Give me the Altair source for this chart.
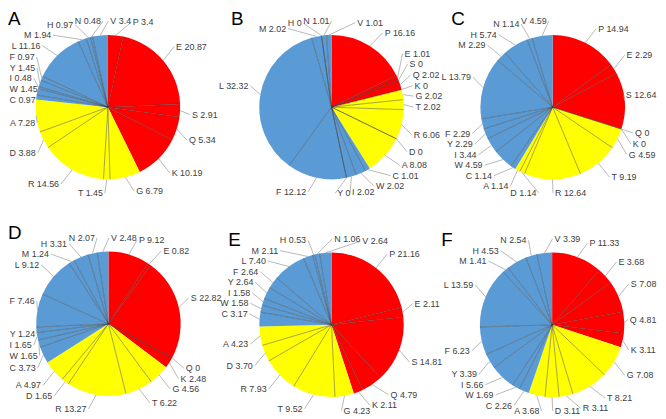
import math
import altair as alt
import pandas as pd

# ---------------- data ----------------
residues = ["P", "E", "S", "Q", "K", "G", "T", "R", "D", "A",
            "C", "W", "I", "Y", "F", "L", "M", "H", "N", "V"]
groups = ["red"] * 5 + ["yellow"] * 5 + ["blue"] * 10
group_domain = ["red", "yellow", "blue"]
group_colors = ["#FF0000", "#FFFF00", "#5B9BD5"]

panel_names = ["A", "B", "C", "D", "E", "F"]
values_A = ["3.4", "20.87", "2.91", "5.34", "10.19", "6.79", "1.45", "14.56", "3.88", "7.28",
            "0.97", "1.45", "0.48", "1.45", "0.97", "11.16", "1.94", "0.97", "0.48", "3.4"]
values_B = ["16.16", "1.01", "0", "2.02", "0", "2.02", "2.02", "6.06", "0", "8.08",
            "1.01", "2.02", "2.02", "0", "12.12", "32.32", "2.02", "0", "1.01", "1.01"]
values_C = ["14.94", "2.29", "12.64", "0", "0", "4.59", "9.19", "12.64", "1.14", "1.14",
            "1.14", "4.59", "3.44", "2.29", "2.29", "13.79", "2.29", "5.74", "1.14", "4.59"]
values_D = ["9.12", "0.82", "22.82", "0", "2.48", "4.56", "6.22", "13.27", "1.65", "4.97",
            "3.73", "1.65", "1.65", "1.24", "7.46", "9.12", "1.24", "3.31", "2.07", "2.48"]
values_E = ["21.16", "2.11", "14.81", "4.79", "2.11", "4.23", "9.52", "7.93", "3.70", "4.23",
            "3.17", "1.58", "1.58", "2.64", "2.64", "7.40", "2.11", "0.53", "1.06", "2.64"]
values_F = ["11.33", "3.68", "7.08", "4.81", "3.11", "7.08", "8.21", "3.11", "3.11", "3.68",
            "2.26", "1.69", "5.66", "3.39", "6.23", "13.59", "1.41", "4.53", "2.54", "3.39"]
all_values = [values_A, values_B, values_C, values_D, values_E, values_F]

# ---------------- layout constants ----------------
W, H = 219, 205            # panel size
R = 73                     # pie radius
RLX, RLY = 83, 87          # label superellipse
PEXP = 0.8
GAP = 2
LH = 10
FS = 9
FONT = "Liberation Sans"
PIE_CENTERS = [(101, 96), (108, 96), (112.5, 96), (101.5, 110), (108, 111), (112, 111)]
LETTER_POS = [(0, 13), (6.5, 13), (10, 13), (0, 24), (3.6, 31), (0, 31)]

CHAR_W = {".": 0.278, " ": 0.278, "A": 0.667, "C": 0.722, "D": 0.722, "E": 0.667,
          "F": 0.611, "G": 0.778, "H": 0.722, "I": 0.278, "K": 0.667, "L": 0.556,
          "M": 0.833, "N": 0.722, "P": 0.667, "Q": 0.778, "R": 0.722, "S": 0.667,
          "T": 0.611, "V": 0.667, "W": 0.944, "Y": 0.667}


def text_width(s):
    return sum(0.556 if ch.isdigit() else CHAR_W.get(ch, 0.6) for ch in s) * FS


def sp(v):
    return math.copysign(abs(v) ** PEXP, v)


def layout_labels(vals, texts, col, row, cx, cy):
    total = sum(vals)
    n = len(vals)
    mids, ends = [], []
    cum = 0.0
    for v in vals:
        a0 = cum / total * 360.0
        cum += v
        a1 = cum / total * 360.0
        mids.append((a0 + a1) / 2.0)
        ends.append(a1)
    widths = [text_width(t) for t in texts]
    ang = list(mids)

    def box(i):
        a = math.radians(ang[i])
        s, c = math.sin(a), math.cos(a)
        ax, ay = RLX * sp(s), RLY * sp(c)
        w = widths[i]
        if s >= 0:
            x0 = ax + GAP
            x1 = x0 + w
        else:
            x1 = ax - GAP
            x0 = x1 - w
        return ax, ay, x0, x1, ay - LH / 2, ay + LH / 2, ("left" if s >= 0 else "right")

    def overlap(b1, b2):
        return (b1[2] < b2[3] + 1.5 and b2[2] < b1[3] + 1.5
                and b1[4] < b2[5] + 0.5 and b2[4] < b1[5] + 0.5)

    for _ in range(4000):
        moved = False
        for i in range(n):
            for k in (1, 2, 3, 4):
                j = (i + k) % n
                if overlap(box(i), box(j)):
                    ang[i] -= 0.2
                    ang[j] += 0.2
                    moved = True
        if not moved:
            break

    xmin = 1.5 - col * W - cx
    xmax = 3 * W - 1.5 - col * W - cx
    ytop = row * H + cy - 1.5
    ybot = row * H + cy - (2 * H - 1.5)
    labels, leaders = [], []
    for i in range(n):
        ax, ay, x0, x1, y0, y1, al = box(i)
        if x0 < xmin:
            d = xmin - x0
            x0 += d; x1 += d
        if x1 > xmax:
            d = x1 - xmax
            x0 -= d; x1 -= d
        if y1 > ytop:
            ay -= (y1 - ytop)
        if y0 < ybot:
            ay += (ybot - y0)
        if al == "left":
            tx = x0
            lx = x0 - GAP
        else:
            tx = x1
            lx = x1 + GAP
        labels.append({"tx": tx, "ty": ay, "label": texts[i], "align": al})
        m = math.radians(mids[i])
        leaders.append({"x": R * math.sin(m), "y": R * math.cos(m), "x2": lx, "y2": ay})
    borders = []
    for i in range(n - 1):
        if groups[i] != groups[i + 1]:
            continue
        t = math.radians(ends[i])
        borders.append({"x": 0.0, "y": 0.0, "x2": R * math.sin(t), "y2": R * math.cos(t)})
    return pd.DataFrame(labels), pd.DataFrame(leaders), pd.DataFrame(borders)


def make_panel(idx):
    name = panel_names[idx]
    vals_str = all_values[idx]
    col, row = idx % 3, idx // 3
    cx, cy = PIE_CENTERS[idx]
    vals = [float(v) for v in vals_str]
    total = sum(vals)
    texts = [f"{r} {v}" for r, v in zip(residues, vals_str)]
    lab_df, lead_df, bord_df = layout_labels(vals, texts, col, row, cx, cy)

    xs = alt.Scale(domain=[-cx, W - cx], nice=False, zero=False)
    ys = alt.Scale(domain=[-(H - cy), cy], nice=False, zero=False)

    slices = pd.DataFrame({"res": residues, "grp": groups, "value": vals,
                           "order": list(range(len(vals)))})
    arc = alt.Chart(slices).mark_arc(outerRadius=R, strokeWidth=0).encode(
        theta=alt.Theta("value:Q", stack=True, scale=alt.Scale(domain=[0, total])),
        order=alt.Order("order:Q"),
        color=alt.Color("grp:N", scale=alt.Scale(domain=group_domain, range=group_colors),
                        legend=None),
        x=alt.XDatum(0, type="quantitative", scale=xs, axis=None),
        y=alt.YDatum(0, type="quantitative", scale=ys, axis=None),
    )
    borders = alt.Chart(bord_df).mark_rule(color="#3a3a3a", strokeWidth=0.7,
                                           opacity=0.65).encode(
        x=alt.X("x:Q", scale=xs, axis=None), y=alt.Y("y:Q", scale=ys, axis=None),
        x2="x2:Q", y2="y2:Q")
    leaders = alt.Chart(lead_df).mark_rule(color="#A6A6A6", strokeWidth=0.8).encode(
        x=alt.X("x:Q", scale=xs, axis=None), y=alt.Y("y:Q", scale=ys, axis=None),
        x2="x2:Q", y2="y2:Q")
    tl = alt.Chart(lab_df).transform_filter(alt.datum.align == "left").mark_text(
        align="left", baseline="middle", font=FONT, fontSize=FS, color="#404040").encode(
        x=alt.X("tx:Q", scale=xs, axis=None), y=alt.Y("ty:Q", scale=ys, axis=None),
        text="label:N")
    tr = alt.Chart(lab_df).transform_filter(alt.datum.align == "right").mark_text(
        align="right", baseline="middle", font=FONT, fontSize=FS, color="#404040").encode(
        x=alt.X("tx:Q", scale=xs, axis=None), y=alt.Y("ty:Q", scale=ys, axis=None),
        text="label:N")
    lx, ly = LETTER_POS[idx]
    letter = alt.Chart(pd.DataFrame({"t": [name]})).mark_text(
        align="left", baseline="alphabetic", font=FONT, fontSize=19, color="#000000").encode(
        x=alt.value(lx), y=alt.value(ly), text="t:N")
    return alt.layer(arc, borders, leaders, tl, tr, letter).properties(width=W, height=H)


panels = [make_panel(i) for i in range(6)]
chart = alt.concat(*panels, columns=3, spacing=0).resolve_scale(
    theta="independent", x="independent", y="independent"
).properties(bounds="flush", padding=0).configure_view(stroke=None)

chart.save("out.html", embed_options={"renderer": "svg", "actions": False})
